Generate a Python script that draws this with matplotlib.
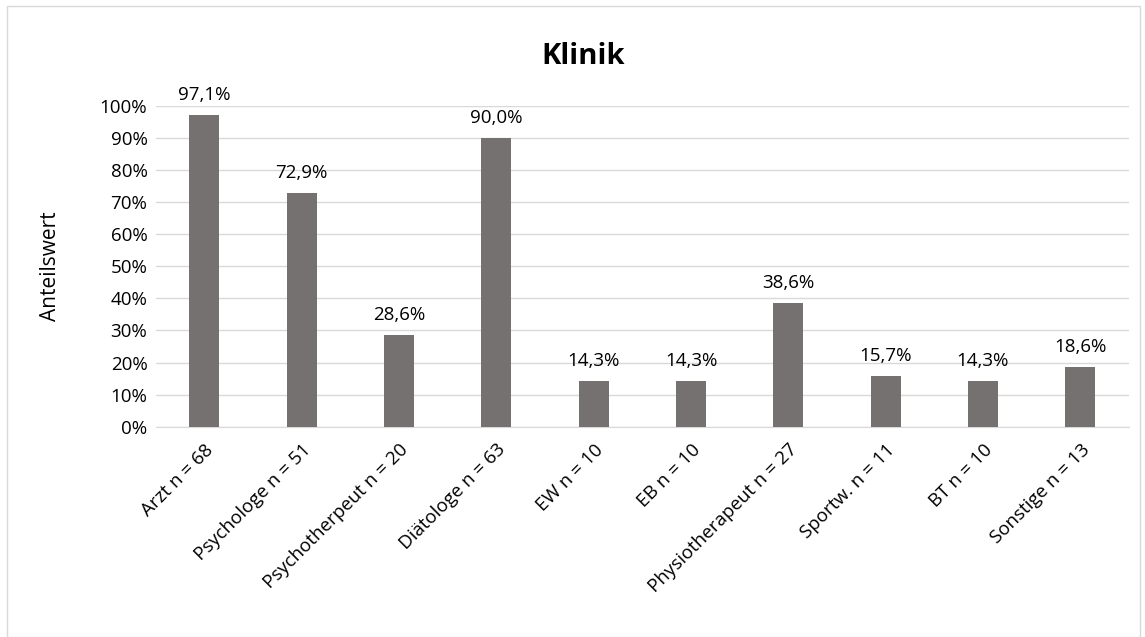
import matplotlib.pyplot as plt
from matplotlib.patches import Rectangle
from matplotlib.ticker import PercentFormatter

categories = ["Arzt n = 68", "Psychologe n = 51", "Psychotherpeut n = 20", "Diätologe n = 63",
              "EW n = 10", "EB n = 10", "Physiotherapeut n = 27", "Sportw. n = 11",
              "BT n = 10", "Sonstige n = 13"]
values = [97.1, 72.9, 28.6, 90.0, 14.3, 14.3, 38.6, 15.7, 14.3, 18.6]

plt.rcParams['font.family'] = ['Open Sans', 'DejaVu Sans']

fig = plt.figure(figsize=(11.45, 6.37), dpi=100)
ax = fig.add_axes([0.136, 0.330, 0.850, 0.504])

x = range(len(categories))
bars = ax.bar(x, values, width=0.31, color='#767171', zorder=3)
for b, v in zip(bars, values):
    ax.text(b.get_x() + b.get_width() / 2, v + 3.5, f"{v:.1f}%".replace('.', ','),
            ha='center', va='bottom', fontsize=13.5, color='#000000')

ax.set_ylim(0, 100)
ax.set_xlim(-0.5, len(categories) - 0.5)
ax.set_yticks(range(0, 101, 10))
ax.yaxis.set_major_formatter(PercentFormatter(decimals=0))
ax.grid(axis='y', color='#d9d9d9', linewidth=1, zorder=0)
ax.set_xticks(list(x))
ax.set_xticklabels(categories, rotation=45, ha='right', rotation_mode='anchor')
ax.tick_params(axis='both', length=0, labelsize=13.5, colors='#000000')
ax.tick_params(axis='x', pad=10)
ax.tick_params(axis='y', pad=6)
for s in ['top', 'right', 'left']:
    ax.spines[s].set_visible(False)
ax.spines['bottom'].set_color('#d9d9d9')
ax.set_ylabel("Anteilswert", fontsize=15, labelpad=28)

fig.text(0.509, 0.912, "Klinik", ha='center', va='center', fontsize=21, fontweight='bold')
fig.patches.append(Rectangle((0.006, 0.0), 0.99, 0.99, transform=fig.transFigure,
                             fill=False, edgecolor='#d9d9d9', linewidth=1))

fig.savefig('out.png', dpi=100)
